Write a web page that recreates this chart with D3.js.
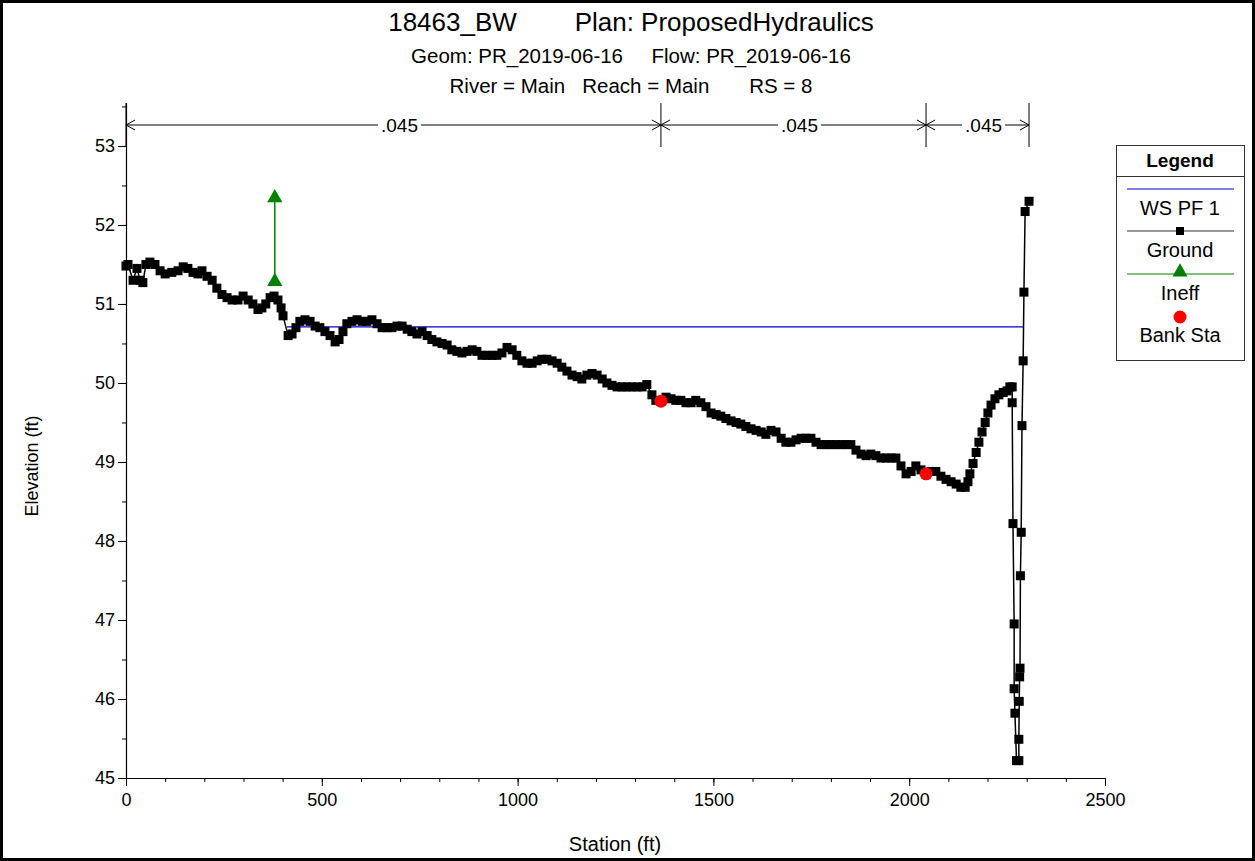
<!DOCTYPE html>
<html>
<head>
<meta charset="utf-8">
<script src="https://cdn.jsdelivr.net/npm/d3@7"></script>
<style>
  body { margin: 0; background: #fff; }
  svg text { font-family: "Liberation Sans", Arial, sans-serif; fill: #000; }
</style>
</head>
<body>
<svg id="chart" width="1255" height="861"></svg>
<script>
// ground profile (station ft, elevation ft)
var groundSta = [0, 5, 18, 28, 36, 43, 51, 61, 74, 87, 100, 117, 133, 146, 158, 171, 184, 194, 207, 220,
  232, 245, 258, 271, 286, 299, 312, 324, 337, 347, 357, 368, 378, 388, 396, 401, 414, 424, 434, 444,
  457, 470, 483, 495, 508, 521, 534, 544, 554, 564, 577, 590, 603, 615, 628, 641, 654, 666, 679, 692,
  705, 718, 730, 743, 756, 769, 781, 794, 807, 820, 832, 845, 858, 871, 884, 896, 909, 922, 935, 947,
  960, 973, 986, 998, 1011, 1024, 1037, 1050, 1062, 1075, 1088, 1101, 1113, 1126, 1139, 1152, 1164, 1177, 1190, 1203,
  1216, 1228, 1241, 1254, 1267, 1279, 1292, 1305, 1318, 1330, 1343, 1353, 1366, 1379, 1392, 1404, 1417, 1430, 1443, 1455,
  1468, 1481, 1494, 1507, 1519, 1532, 1545, 1558, 1570, 1583, 1596, 1609, 1622, 1634, 1647, 1660, 1673, 1685, 1698, 1711,
  1724, 1736, 1749, 1762, 1775, 1788, 1800, 1813, 1826, 1839, 1851, 1864, 1877, 1890, 1902, 1915, 1928, 1941, 1954, 1966,
  1979, 1992, 2005, 2017, 2030, 2043, 2056, 2068, 2081, 2094, 2107, 2120, 2132, 2143, 2150, 2155, 2163, 2171, 2178, 2186,
  2194, 2201, 2209, 2219, 2229, 2240, 2250, 2257, 2263, 2263, 2265, 2268, 2268, 2270, 2274, 2280, 2280, 2281, 2282, 2283,
  2284, 2286, 2288, 2291, 2293, 2296, 2306];
var groundElev = [51.48, 51.5, 51.3, 51.45, 51.3, 51.27, 51.5, 51.53, 51.5, 51.42, 51.38, 51.4, 51.42, 51.47, 51.45, 51.4, 51.38, 51.42, 51.35, 51.3,
  51.2, 51.12, 51.08, 51.05, 51.05, 51.1, 51.05, 51.0, 50.93, 50.95, 51.0, 51.08, 51.1, 51.05, 50.95, 50.85, 50.6, 50.62, 50.7, 50.78,
  50.8, 50.78, 50.72, 50.7, 50.65, 50.6, 50.52, 50.55, 50.65, 50.75, 50.78, 50.8, 50.78, 50.78, 50.8, 50.75, 50.7, 50.7, 50.7, 50.72,
  50.72, 50.68, 50.65, 50.62, 50.65, 50.6, 50.55, 50.52, 50.5, 50.48, 50.42, 50.4, 50.38, 50.4, 50.42, 50.4, 50.35, 50.35, 50.35, 50.35,
  50.38, 50.45, 50.42, 50.35, 50.28, 50.25, 50.25, 50.28, 50.3, 50.3, 50.28, 50.25, 50.2, 50.15, 50.1, 50.08, 50.05, 50.1, 50.12, 50.1,
  50.05, 50.0, 49.97, 49.95, 49.95, 49.95, 49.95, 49.95, 49.95, 49.98, 49.85, 49.78, 49.77, 49.82, 49.8, 49.78, 49.78, 49.75, 49.75, 49.78,
  49.75, 49.7, 49.62, 49.6, 49.58, 49.55, 49.52, 49.5, 49.48, 49.45, 49.42, 49.4, 49.38, 49.35, 49.4, 49.38, 49.3, 49.25, 49.25, 49.28,
  49.3, 49.3, 49.3, 49.25, 49.22, 49.22, 49.22, 49.22, 49.22, 49.22, 49.22, 49.15, 49.1, 49.08, 49.1, 49.08, 49.05, 49.05, 49.05, 49.05,
  48.95, 48.85, 48.88, 48.95, 48.9, 48.85, 48.88, 48.88, 48.82, 48.78, 48.75, 48.72, 48.68, 48.68, 48.75, 48.85, 48.98, 49.12, 49.25, 49.38,
  49.5, 49.62, 49.72, 49.8, 49.85, 49.88, 49.9, 49.95, 49.95, 49.75, 48.22, 46.95, 46.13, 45.82, 45.22, 45.22, 45.49, 45.97, 46.28, 46.39,
  47.56, 48.11, 49.46, 50.28, 51.15, 52.17, 52.3];

var wsSta = [411, 2291];
var wsElev = [50.71, 50.71];

var ineffSta = [380, 380];
var ineffElev = [51.27, 52.33];

var bankSta = [1366, 2043];
var bankElev = [49.77, 48.85];

var nBreaks = [0, 1366, 2043, 2306];
var nValues = [".045", ".045", ".045"];

var xTicks = [0, 500, 1000, 1500, 2000, 2500];
var yTicks = [45, 46, 47, 48, 49, 50, 51, 52, 53];

var titleLines = ["18463_BW        Plan: ProposedHydraulics",
  "Geom: PR_2019-06-16     Flow: PR_2019-06-16",
  "River = Main   Reach = Main       RS = 8"];

var svg = d3.select("#chart");

var x = d3.scaleLinear().domain([0, 2500]).range([126, 1105]);
var y = d3.scaleLinear().domain([45, 53.55]).range([778, 102.5]);

// outer frame
svg.append("rect").attr("x", 1.5).attr("y", 1.5).attr("width", 1252).attr("height", 858)
  .attr("fill", "none").attr("stroke", "#000").attr("stroke-width", 3);

// titles
var titleY = [31, 63, 93], titleSize = [26, 20.5, 20.5];
titleLines.forEach(function(t, i) {
  svg.append("text").attr("x", 631).attr("y", titleY[i])
    .attr("text-anchor", "middle").attr("font-size", titleSize[i])
    .attr("xml:space", "preserve").style("white-space", "pre").text(t);
});

// axes
var xMinor = d3.range(0, 2501, 100);
var yMinor = d3.range(45, 53.51, 0.5);

svg.append("g").attr("transform", "translate(0,778)")
  .call(d3.axisBottom(x).tickValues(xMinor).tickSize(4).tickFormat(""))
  .call(function(g) { g.select(".domain").remove(); });
svg.append("g").attr("transform", "translate(0,778)")
  .call(d3.axisBottom(x).tickValues(xTicks).tickSize(8).tickSizeOuter(0).tickPadding(7).tickFormat(d3.format("d")))
  .call(function(g) {
    g.selectAll("text").attr("font-size", 18).attr("font-family", "Liberation Sans, Arial, sans-serif");
    g.select(".domain").attr("stroke-width", 1.2);
  });

svg.append("g").attr("transform", "translate(126,0)")
  .call(d3.axisLeft(y).tickValues(yMinor).tickSize(4).tickFormat(""))
  .call(function(g) { g.select(".domain").remove(); });
svg.append("g").attr("transform", "translate(126,0)")
  .call(d3.axisLeft(y).tickValues(yTicks).tickSize(8).tickSizeOuter(0).tickPadding(3).tickFormat(d3.format("d")))
  .call(function(g) {
    g.selectAll("text").attr("font-size", 18).attr("font-family", "Liberation Sans, Arial, sans-serif");
    g.select(".domain").attr("stroke-width", 1.2);
  });

svg.append("text").attr("x", 615).attr("y", 851).attr("text-anchor", "middle")
  .attr("font-size", 20).text("Station (ft)");
svg.append("text").attr("transform", "translate(38,466) rotate(-90)").attr("text-anchor", "middle")
  .attr("font-size", 18).text("Elevation (ft)");

// manning's n bars
var nY = 125;
var nG = svg.append("g");
nBreaks.forEach(function(s) {
  nG.append("line").attr("x1", x(s)).attr("x2", x(s)).attr("y1", 103).attr("y2", 147)
    .attr("stroke", "#000").attr("stroke-width", 1);
});
nValues.forEach(function(v, i) {
  var x0 = x(nBreaks[i]), x1 = x(nBreaks[i + 1]), xm = (x0 + x1) / 2 + 6;
  var txt = nG.append("text").attr("x", xm).attr("y", nY + 7).attr("text-anchor", "middle")
    .attr("font-size", 19).text(v);
  var w = txt.node().getComputedTextLength() / 2 + 3;
  nG.append("line").attr("x1", x0).attr("x2", xm - w).attr("y1", nY).attr("y2", nY).attr("stroke", "#000");
  nG.append("line").attr("x1", xm + w).attr("x2", x1).attr("y1", nY).attr("y2", nY).attr("stroke", "#000");
  nG.append("path").attr("d", "M" + (x0 + 9) + "," + (nY - 5) + "L" + x0 + "," + nY + "L" + (x0 + 9) + "," + (nY + 5))
    .attr("fill", "none").attr("stroke", "#000");
  nG.append("path").attr("d", "M" + (x1 - 9) + "," + (nY - 5) + "L" + x1 + "," + nY + "L" + (x1 - 9) + "," + (nY + 5))
    .attr("fill", "none").attr("stroke", "#000");
});

var line = d3.line().x(function(d) { return x(d[0]); }).y(function(d) { return y(d[1]); });

// water surface
svg.append("path").datum(d3.zip(wsSta, wsElev)).attr("d", line)
  .attr("fill", "none").attr("stroke", "#0000cc").attr("stroke-width", 1.3);

// ground
var ground = d3.zip(groundSta, groundElev);
svg.append("path").datum(ground).attr("d", line)
  .attr("fill", "none").attr("stroke", "#000").attr("stroke-width", 1.5);
svg.append("g").selectAll("rect").data(ground).enter().append("rect")
  .attr("x", function(d) { return x(d[0]) - 4.5; })
  .attr("y", function(d) { return y(d[1]) - 4.5; })
  .attr("width", 9).attr("height", 9).attr("fill", "#000");

// ineffective flow
var ineff = d3.zip(ineffSta, ineffElev);
svg.append("path").datum(ineff).attr("d", line)
  .attr("fill", "none").attr("stroke", "#008000").attr("stroke-width", 1.5);
svg.append("g").selectAll("path").data(ineff).enter().append("path")
  .attr("d", d3.symbol().type(d3.symbolTriangle).size(100))
  .attr("transform", function(d) { return "translate(" + x(d[0]) + "," + (y(d[1]) - 1) + ")"; })
  .attr("fill", "#008000");

// bank stations
svg.append("g").selectAll("circle").data(d3.zip(bankSta, bankElev)).enter().append("circle")
  .attr("cx", function(d) { return x(d[0]); })
  .attr("cy", function(d) { return y(d[1]); })
  .attr("r", 6.5).attr("fill", "#ff0000");

// legend
var lg = svg.append("g");
lg.append("rect").attr("x", 1116.5).attr("y", 145.5).attr("width", 128).attr("height", 215)
  .attr("fill", "#fff").attr("stroke", "#333").attr("stroke-width", 1);
lg.append("line").attr("x1", 1116.5).attr("x2", 1244.5).attr("y1", 176.5).attr("y2", 176.5).attr("stroke", "#333");
lg.append("text").attr("x", 1180).attr("y", 167).attr("text-anchor", "middle")
  .attr("font-size", 19).attr("font-weight", "bold").text("Legend");
var lx0 = 1127, lx1 = 1234, lc = 1180;
lg.append("line").attr("x1", lx0).attr("x2", lx1).attr("y1", 189).attr("y2", 189).attr("stroke", "#0000cc");
lg.append("text").attr("x", lc).attr("y", 215).attr("text-anchor", "middle").attr("font-size", 20).text("WS PF 1");
lg.append("line").attr("x1", lx0).attr("x2", lx1).attr("y1", 231).attr("y2", 231).attr("stroke", "#333");
lg.append("rect").attr("x", lc - 4).attr("y", 227).attr("width", 8).attr("height", 8).attr("fill", "#000");
lg.append("text").attr("x", lc).attr("y", 257).attr("text-anchor", "middle").attr("font-size", 20).text("Ground");
lg.append("line").attr("x1", lx0).attr("x2", lx1).attr("y1", 274).attr("y2", 274).attr("stroke", "#008000");
lg.append("path").attr("d", d3.symbol().type(d3.symbolTriangle).size(100))
  .attr("transform", "translate(" + lc + ",272)").attr("fill", "#008000");
lg.append("text").attr("x", lc).attr("y", 300).attr("text-anchor", "middle").attr("font-size", 20).text("Ineff");
lg.append("circle").attr("cx", lc).attr("cy", 317).attr("r", 6.5).attr("fill", "#ff0000");
lg.append("text").attr("x", lc).attr("y", 342).attr("text-anchor", "middle").attr("font-size", 20).text("Bank Sta");
</script>
</body>
</html>
